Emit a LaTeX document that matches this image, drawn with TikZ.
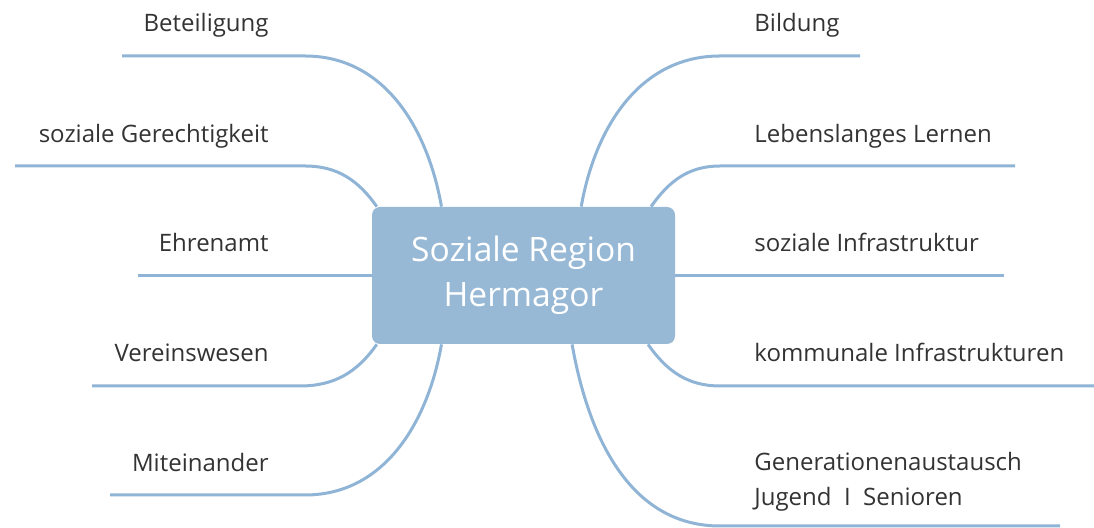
\documentclass[tikz,border=0pt]{standalone}
\usepackage{fontspec}
\setmainfont{Open Sans}
\usepackage{xcolor}
\usetikzlibrary{calc, positioning}

\definecolor{linecol}{HTML}{8FB4D6}
\definecolor{hubcol}{HTML}{97B9D6}
\definecolor{txtcol}{HTML}{333333}

\begin{document}
\begin{tikzpicture}[x=0.5pt, y=0.5pt,
        hub/.style={rectangle, rounded corners=4pt, fill=hubcol, text=white, align=center, minimum width=151.5pt, minimum height=68.5pt, inner sep=0pt, font=\fontsize{16.8}{22.5}\selectfont},
        lbl/.style={text=txtcol, align=left, inner sep=0pt, font=\fontsize{12}{17.5}\selectfont},
        branch/.style={draw=linecol, line width=1.5pt}]
        \useasboundingbox (0,0) rectangle (1094,528);

        % Nodes
        \node[hub] (hub) at (523.5,252.5) {Soziale Region\\Hermagor};

        \node[lbl, anchor=base east] (bet) at (269,496) {Beteiligung};
        \node[lbl, anchor=base east] (ger) at (269,385) {soziale Gerechtigkeit};
        \node[lbl, anchor=base east] (ehr) at (269,276) {Ehrenamt};
        \node[lbl, anchor=base east] (ver) at (269,166) {Vereinswesen};
        \node[lbl, anchor=base east] (mit) at (269,56) {Miteinander};

        \node[lbl, anchor=base west] (bil) at (754,496) {Bildung};
        \node[lbl, anchor=base west] (ler) at (754,385) {Lebenslanges Lernen};
        \node[lbl, anchor=base west] (inf) at (754,276) {soziale Infrastruktur};
        \node[lbl, anchor=base west] (kom) at (754,166) {kommunale Infrastrukturen};
        \node[lbl, anchor=base west] (gen) at (754,22) {Generationenaustausch\\Jugend\ \ I\ \ Senioren};

        % Line ends
        \coordinate (betE) at (122,472);
        \coordinate (gerE) at (15,362);
        \coordinate (ehrE) at (138,252.5);
        \coordinate (verE) at (92,142);
        \coordinate (mitE) at (110,33);
        \coordinate (bilE) at (860,472);
        \coordinate (lerE) at (1015,362);
        \coordinate (infE) at (1004,252.5);
        \coordinate (komE) at (1094,142);
        \coordinate (genE) at (1060,2);

        % Edges
        \draw[branch] ($(hub.north west)!0.23!(hub.north east)$) to[out=100, in=0] (305,472) -- (betE);
        \draw[branch] ($(hub.north west)!0.017!(hub.north east)$) to[out=125, in=0] (305,362) -- (gerE);
        \draw[branch] (hub.west) -- (ehrE);
        \draw[branch] ($(hub.south west)!0.017!(hub.south east)$) to[out=235, in=0] (300,142) -- (verE);
        \draw[branch] ($(hub.south west)!0.23!(hub.south east)$) to[out=260, in=0] (305,33) -- (mitE);

        \draw[branch] ($(hub.north west)!0.69!(hub.north east)$) to[out=80, in=180] (720,472) -- (bilE);
        \draw[branch] ($(hub.north west)!0.92!(hub.north east)$) to[out=55, in=180] (720,362) -- (lerE);
        \draw[branch] (hub.east) -- (infE);
        \draw[branch] ($(hub.south west)!0.91!(hub.south east)$) to[out=305, in=180] (720,142) -- (komE);
        \draw[branch] ($(hub.south west)!0.66!(hub.south east)$) to[out=280, in=180] (720,2) -- (genE);
\end{tikzpicture}
\end{document}
